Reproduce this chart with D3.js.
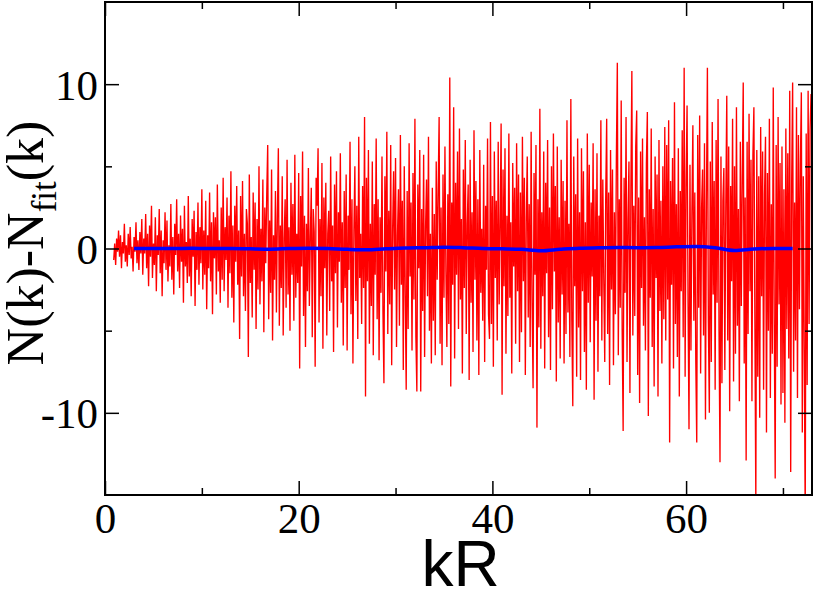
<!DOCTYPE html>
<html><head><meta charset="utf-8">
<script src="https://cdn.jsdelivr.net/npm/d3@7"></script>
<style>
html,body{margin:0;padding:0;background:#fff;}svg{display:block;}
.serif{font-family:"Liberation Serif","Times New Roman",Times,serif;}
.sans{font-family:"Liberation Sans",Arial,Helvetica,sans-serif;}
</style>
</head><body>
<svg id="chart" width="814" height="590"></svg>
<script>
// ---- data ----
const kStart = 0.9;
const kStep = 0.1;
const residual = [
-0.7,0.3,-1.0,0.6,-0.2,1.1,-0.5,0.8,-1.2,0.4,-0.3,1.5,-0.8,0.2,-1.1,0.9,-0.4,1.3,-0.6,0.1,-1.4,0.7,-0.2,1.6,-0.9,0.5,-1.3,1.0,-0.3,1.8,
-1.6,0.6,-0.3,2.1,-1.2,0.9,-2.3,1.4,-0.5,2.6,-1.8,0.3,-1.0,1.9,-2.6,0.8,-0.4,2.4,-1.5,1.1,-2.9,0.5,-0.9,2.2,-1.3,1.7,-2.0,0.2,-1.1,2.7,
-1.9,0.7,-2.8,1.5,-0.4,3.0,-1.4,0.9,-2.4,2.0,-0.8,1.2,-3.3,2.6,-1.1,0.4,-2.1,3.2,-1.7,0.6,-2.9,1.8,-0.5,2.3,-3.5,1.0,-1.3,2.8,-2.2,1.3,
-0.9,3.6,-2.5,1.1,-1.6,2.9,-3.7,0.8,-1.2,3.4,-2.0,1.6,-4.0,2.2,-0.6,1.9,-2.8,3.9,-1.4,0.5,-3.3,2.5,-1.9,4.3,-2.6,1.3,-0.7,3.1,-3.6,2.0,
-1.5,4.7,-3.0,1.4,-4.5,2.6,-0.8,3.8,-2.2,1.1,-5.5,3.2,-1.7,4.1,-2.9,0.9,-3.8,2.4,1.5,-6.6,4.5,-2.1,0.7,-4.2,3.4,-1.3,2.8,-4.9,1.8,-2.5,
5.0,-3.4,1.2,-2.0,4.2,-5.1,2.5,-0.9,3.3,6.3,-4.3,1.7,-2.7,4.8,-5.6,0.8,-1.9,3.5,-3.9,2.1,6.1,-4.7,1.4,-2.4,4.4,-5.3,0.6,3.0,-3.6,5.4,
-2.8,1.3,-5.0,4.0,-1.6,2.7,-4.4,5.7,-3.0,0.9,-2.1,4.6,-7.3,3.2,-1.1,5.9,-4.1,2.0,-6.0,1.5,-2.6,4.9,-3.5,0.7,3.7,-5.4,2.4,1.0,-7.2,4.3,
2.6,6.1,-4.5,1.8,-2.9,5.2,-6.1,3.1,-1.2,4.0,-5.3,0.9,2.3,-3.8,5.6,-2.0,1.4,-6.3,3.9,-1.5,4.7,-4.8,2.2,-0.8,5.8,-3.3,1.6,-5.9,3.5,-2.4,
4.5,-6.2,2.0,-1.3,6.5,-4.0,3.0,-7.0,1.1,5.0,-3.2,2.6,-5.5,6.8,-1.8,0.9,-4.6,3.8,-2.4,8.0,-9.0,4.3,-2.0,6.0,-5.8,1.5,-3.5,5.3,-6.5,2.7,
-1.6,6.7,-4.3,3.0,-6.8,1.9,-2.7,5.6,-3.9,-8.2,4.4,-1.4,7.1,-5.2,2.3,-3.4,6.3,-7.1,1.2,4.7,-2.5,5.5,-6.0,0.8,3.6,-4.7,6.9,-2.2,2.9,-7.4,
5.0,-2.6,-8.6,3.5,-4.9,6.4,-1.7,2.8,-6.2,4.6,-3.1,7.9,-5.4,-8.7,3.9,-1.2,6.0,-8.7,2.4,-3.8,5.7,-6.6,1.3,4.2,-2.9,6.8,-5.0,0.9,-7.0,3.7,
-4.4,2.1,-6.5,5.3,-1.9,3.6,8.0,-5.8,2.5,-7.1,4.5,-3.0,6.2,-1.4,-6.0,3.3,-4.6,10.4,-8.4,2.8,-2.2,8.6,-6.7,4.0,-1.6,5.9,-4.9,7.3,-3.1,1.8,
-7.6,4.8,-2.4,6.6,-5.2,1.5,3.9,-8.0,5.4,-3.3,2.2,-6.3,7.2,-1.9,4.1,-5.6,3.0,-7.7,6.0,-2.7,1.2,-4.4,5.1,-6.9,2.6,-1.3,6.7,-4.0,-5.5,7.7,
-4.6,3.2,-7.2,5.9,-1.8,2.9,-5.6,6.5,-3.4,1.4,7.6,-8.9,4.8,-2.3,6.1,-6.4,2.0,-4.1,7.0,-3.0,1.6,-7.6,5.2,-1.1,3.7,-5.8,6.4,-2.6,4.5,-6.9,
3.4,-5.1,6.8,-2.0,4.3,-7.7,1.9,5.6,-4.2,2.7,-6.0,7.1,-3.5,-8.5,4.6,-1.6,6.3,-10.9,3.0,-4.8,8.5,-6.1,2.2,-2.9,5.9,-7.3,4.0,-1.5,6.6,-5.4,
2.5,-7.4,5.0,-3.7,7.0,-1.4,3.8,-8.1,6.2,-4.5,1.9,-6.7,5.4,-2.8,4.1,-7.0,2.9,-5.2,7.8,-3.9,1.5,-6.6,9.1,-4.4,-9.6,5.6,-2.3,3.3,-7.8,6.7,
-4.8,2.2,-8.0,6.1,-2.6,4.7,-6.3,1.6,-8.6,7.0,-3.3,5.1,-5.7,2.8,-1.7,6.4,-9.2,3.6,-4.4,5.8,-7.5,2.0,-2.9,7.8,-5.6,4.2,-1.9,-6.9,3.1,7.9,
-5.2,3.4,-8.3,6.0,-2.5,4.8,-7.1,2.2,-4.0,5.5,11.3,-6.5,3.0,-3.6,9.0,-5.0,-11.1,4.3,-2.7,8.0,-6.9,1.8,5.3,-8.8,3.7,10.8,-5.3,2.6,-4.1,6.2,
8.4,-7.7,3.1,-9.4,5.9,-2.4,6.7,-4.7,1.9,-6.2,5.2,8.3,-10.2,3.6,-3.0,7.3,-6.0,2.4,-8.4,5.6,-1.8,4.5,-9.0,6.6,-3.8,2.9,-7.0,5.0,-4.3,7.4,
-5.6,6.3,-3.1,7.8,-11.8,4.1,-2.2,5.5,-7.3,8.9,-4.6,2.7,-6.6,6.1,-9.0,3.5,-2.6,7.2,-5.4,11.0,-7.8,4.0,8.7,-3.2,-11.0,5.1,-6.2,2.3,7.5,-4.4,
3.4,-6.8,-11.8,6.9,-3.6,8.1,-7.6,2.5,4.8,-5.3,6.4,-10.4,3.0,11.0,-4.5,-10.0,5.3,-6.9,7.7,-2.8,4.1,-8.6,6.6,-3.3,9.1,-5.0,-13.0,5.6,-8.2,2.9,
4.9,-7.4,2.6,9.3,-5.6,6.2,-9.9,3.8,-2.0,7.9,-8.1,5.0,-6.4,8.6,-4.7,2.4,-9.3,6.5,-3.5,4.4,10.1,-7.0,3.1,-12.9,6.5,-5.2,8.2,-2.6,5.4,-9.3,
5.7,8.6,-4.1,-15.5,6.0,-7.8,4.4,-10.3,7.4,-2.9,5.9,-8.6,3.3,6.8,-11.2,4.6,-5.0,7.9,-9.1,2.7,-6.4,9.8,-4.2,-14.0,6.3,-7.2,8.0,-3.4,5.2,-9.5,
6.2,-8.8,3.6,-10.6,7.3,-4.9,5.8,-6.7,9.6,-13.6,4.0,10.1,-7.5,2.8,-5.6,8.6,-9.1,6.9,-3.7,5.1,9.5,-11.2,4.4,-6.0,-16.5,7.0,-8.3,9.6,-4.6,7.2,
9.4
];
const fitK = [3,5,7,9,11,13,15,17,19,21,23,25,27,29,31,33,35,37,39,41,43,45,47,49,51,53,55,57,59,61,63,65,67,69,71];
const fitV = [0,0,0,0.01,0,0,-0.02,-0.04,0,0.02,0,-0.05,-0.08,-0.02,0.03,0.05,0.08,0.05,0,-0.02,-0.05,-0.14,-0.05,0.02,0.04,0.06,0.05,0.06,0.1,0.12,0.05,-0.12,-0.03,0,0];
const xMajor = [0,20,40,60];
const xMinor = [10,30,50,70];
const yMajor = [-10,0,10];
const yMinor = [-5,5];
const xTitle = "kR";

// ---- drawing ----
const svg = d3.select("#chart");
const L = 105, R = 812, T = 2, B = 495;
const x = d3.scaleLinear().domain([0,73]).range([L,R]);
const y = d3.scaleLinear().domain([-15,15]).range([B,T]);

svg.append("defs").append("clipPath").attr("id","clip")
  .append("rect").attr("x",L).attr("y",T).attr("width",R-L).attr("height",B-T);

const redData = residual.map((v,i)=>({k:kStart+i*kStep, v}));
svg.append("path").datum(redData)
  .attr("clip-path","url(#clip)")
  .attr("fill","none").attr("stroke","#ff0000").attr("stroke-width",1.35)
  .attr("stroke-linejoin","miter").attr("stroke-miterlimit",2)
  .attr("d", d3.line().x(d=>x(d.k)).y(d=>y(d.v)));

const blueData = fitK.map((k,i)=>({k, v:fitV[i]}));
svg.append("path").datum(blueData)
  .attr("fill","none").attr("stroke","#0000ff").attr("stroke-width",3.5)
  .attr("d", d3.line().curve(d3.curveMonotoneX).x(d=>x(d.k)).y(d=>y(d.v)));

const tickStyle = g => { g.select(".domain").remove(); g.selectAll("line").attr("stroke","#000").attr("stroke-width",1.5); };
// bottom
svg.append("g").attr("transform",`translate(0,${B})`)
  .call(d3.axisBottom(x).tickValues(xMajor).tickSize(-14).tickFormat(d3.format("d")))
  .call(tickStyle)
  .call(g=>g.selectAll("text").attr("y",38).attr("dy",null).attr("class","serif")
     .attr("font-family",null).attr("font-size",43).attr("fill","#000"));
svg.append("g").attr("transform",`translate(0,${B})`)
  .call(d3.axisBottom(x).tickValues(xMinor).tickSize(-7).tickFormat(""))
  .call(tickStyle);
// top
svg.append("g").attr("transform",`translate(0,${T})`)
  .call(d3.axisTop(x).tickValues(xMajor).tickSize(-14).tickFormat(""))
  .call(tickStyle);
svg.append("g").attr("transform",`translate(0,${T})`)
  .call(d3.axisTop(x).tickValues(xMinor).tickSize(-7).tickFormat(""))
  .call(tickStyle);
// left
svg.append("g").attr("transform",`translate(${L},0)`)
  .call(d3.axisLeft(y).tickValues(yMajor).tickSize(-14).tickFormat(d=>String(d)))
  .call(tickStyle)
  .call(g=>g.selectAll("text").attr("x",-7).attr("dy",15).attr("class","serif")
     .attr("font-family",null).attr("font-size",43).attr("fill","#000"));
svg.append("g").attr("transform",`translate(${L},0)`)
  .call(d3.axisLeft(y).tickValues(yMinor).tickSize(-7).tickFormat(""))
  .call(tickStyle);
// right
svg.append("g").attr("transform",`translate(${R},0)`)
  .call(d3.axisRight(y).tickValues(yMajor).tickSize(-14).tickFormat(""))
  .call(tickStyle);
svg.append("g").attr("transform",`translate(${R},0)`)
  .call(d3.axisRight(y).tickValues(yMinor).tickSize(-7).tickFormat(""))
  .call(tickStyle);

// frame
svg.append("rect").attr("x",L).attr("y",T).attr("width",R-L).attr("height",B-T)
  .attr("fill","none").attr("stroke","#000").attr("stroke-width",2);

// x title
svg.append("text").attr("class","sans").attr("x",(L+R)/2+2).attr("y",586).attr("text-anchor","middle")
  .attr("font-size",64).attr("fill","#000")
  .text(xTitle);

// y title
const yt = svg.append("text").attr("class","serif").attr("transform",`translate(43,243) rotate(-90)`)
  .attr("text-anchor","middle").attr("font-size",52).attr("fill","#000");
yt.append("tspan").text("N(k)-N");
yt.append("tspan").attr("font-size",35).attr("dy",13).text("fit");
yt.append("tspan").attr("dy",-13).text("(k)");
</script>
</body></html>
